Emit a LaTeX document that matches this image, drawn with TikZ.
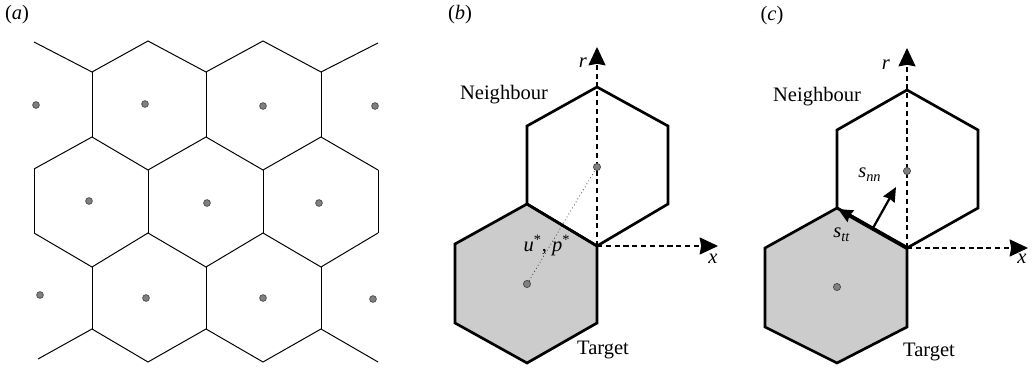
\documentclass[tikz,border=0pt]{standalone}
\usepackage{fontspec}
\setmainfont{Liberation Serif}
\usetikzlibrary{arrows.meta}

\begin{document}
\begin{tikzpicture}[x=0.025cm, y=-0.025cm,
    cell/.style={line width=0.7pt, line join=miter},
    hexline/.style={line width=1.9pt, line join=miter},
    target/.style={hexline, fill=black!20},
    axis/.style={line width=0.8pt, dash pattern=on 0.13cm off 0.09cm, -{Stealth[length=0.46cm, width=0.43cm, inset=0.04cm]}},
    site/.style={circle, draw=black!75, fill=black!50, line width=0.45pt, inner sep=0pt, minimum size=0.17cm},
    lbl/.style={font=\fontsize{14.6pt}{17pt}\selectfont, inner sep=0pt},
    vec/.style={line width=1.6pt, -{Stealth[length=0.36cm, width=0.32cm, inset=0.03cm]}}
]
\useasboundingbox (0,0) rectangle (1033,372);

% (a) tessellation
\node[lbl] (la) at (17,15) {(\textit{a})};
\draw[cell] (34,42) -- (92,72) -- (148,41) -- (206,72) -- (263,41) -- (321,72) -- (378,43);
\draw[cell] (34,169) -- (92,137) -- (148,170) -- (206,137) -- (263,170) -- (321,137) -- (378,170);
\draw[cell] (34,233) -- (92,267) -- (148,233) -- (206,267) -- (263,233) -- (321,267) -- (378,233);
\draw[cell] (38,359) -- (92,329) -- (148,362) -- (206,329) -- (263,362) -- (321,329) -- (378,362);
\draw[cell] (92,72) -- (92,137) (206,72) -- (206,137) (321,72) -- (321,137);
\draw[cell] (34,169) -- (34,233) (148,170) -- (148,233) (263,170) -- (263,233) (378,170) -- (378,233);
\draw[cell] (92,267) -- (92,329) (206,267) -- (206,329) (321,267) -- (321,329);
\node[site] (a1) at (36,105) {};
\node[site] (a2) at (145,104) {};
\node[site] (a3) at (263,106) {};
\node[site] (a4) at (375,106) {};
\node[site] (a5) at (89,201) {};
\node[site] (a6) at (207,203) {};
\node[site] (a7) at (319,203) {};
\node[site] (a8) at (40,295) {};
\node[site] (a9) at (146,298) {};
\node[site] (a10) at (263,298) {};
\node[site] (a11) at (373,299) {};

% (b) interpolation
\node[lbl] (lb) at (460,15) {(\textit{b})};
\draw[target] (527,204) -- (597,246) -- (597,323) -- (527,363) -- (455,323) -- (455,244) -- cycle;
\draw[hexline] (597,87) -- (668,126) -- (668,204) -- (597,246) -- (527,204) -- (527,126) -- cycle;
\coordinate (ob) at (597,246);
\coordinate (rb) at (597,47);
\coordinate (xb) at (718,246);
\draw[axis] (ob) -- (rb);
\draw[axis] (ob) -- (xb);
\node[site, minimum size=0.18cm] (tb) at (527,284) {};
\node[site, minimum size=0.18cm] (nb) at (597,167) {};
\draw[dotted, line width=0.5pt] (tb) -- (nb);
\node[lbl, anchor=base] (up) at (547,252) {\textit{u}\textsuperscript{*}, \textit{p}\textsuperscript{*}};
\node[lbl] (nlb) at (504,95) {Neighbour};
\node[lbl] (tlb) at (603,350) {Target};
\node[lbl] (rlb) at (583,63) {\textit{r}};
\node[lbl] (xlb) at (713,259) {\textit{x}};

% (c) stresses
\node[lbl] (lc) at (772,16) {(\textit{c})};
\draw[target] (837,208) -- (907,248) -- (907,327) -- (837,363) -- (765,327) -- (765,248) -- cycle;
\draw[hexline] (907,90) -- (978,130) -- (978,208) -- (907,248) -- (837,208) -- (837,130) -- cycle;
\coordinate (oc) at (907,248);
\coordinate (rc) at (907,48);
\coordinate (xc) at (1028,248);
\coordinate (vc) at (838,209);
\coordinate (mc) at (873,228);
\coordinate (nc) at (896,187);
\draw[axis] (oc) -- (rc);
\draw[axis] (oc) -- (xc);
\draw[vec, line width=2.8pt] (oc) -- (vc);
\draw[vec] (mc) -- (nc);
\node[site, minimum size=0.18cm] (tcd) at (837,287) {};
\node[site, minimum size=0.18cm] (ncd) at (907,171) {};
\node[lbl, anchor=base west] (snn) at (858,178) {\textit{s}\textsubscript{\textit{nn}}};
\node[lbl, anchor=base west] (stt) at (833,238) {\textit{s}\textsubscript{\textit{tt}}};
\node[lbl] (nlc) at (817,97) {Neighbour};
\node[lbl] (tlc) at (929,352) {Target};
\node[lbl] (rlc) at (886,65) {\textit{r}};
\node[lbl] (xlc) at (1022,259) {\textit{x}};
\end{tikzpicture}
\end{document}
